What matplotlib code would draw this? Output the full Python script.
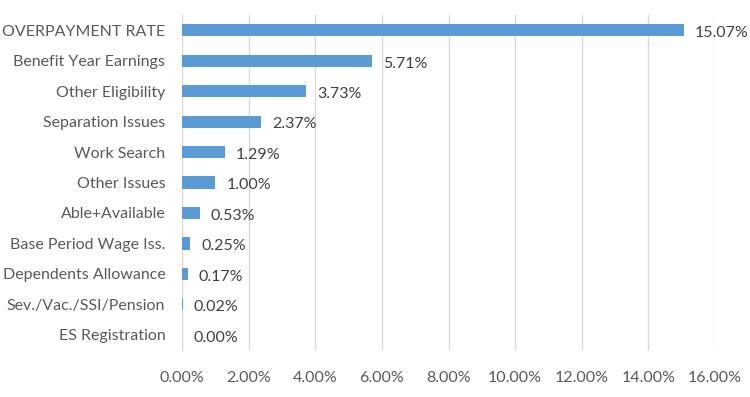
import matplotlib
matplotlib.use("Agg")
import matplotlib.pyplot as plt
from matplotlib.ticker import FuncFormatter

categories = ["OVERPAYMENT RATE", "Benefit Year Earnings", "Other Eligibility",
              "Separation Issues", "Work Search", "Other Issues", "Able+Available",
              "Base Period Wage Iss.", "Dependents Allowance", "Sev./Vac./SSI/Pension",
              "ES Registration"]
values = [15.07, 5.71, 3.73, 2.37, 1.29, 1.00, 0.53, 0.25, 0.17, 0.02, 0.00]
xticks = [0, 2, 4, 6, 8, 10, 12, 14, 16]

plt.rcParams['font.family'] = ['Lato', 'DejaVu Sans']

fig = plt.figure(figsize=(7.5, 3.97), dpi=100)
ax = fig.add_axes([0.2427, 0.1184, 0.7106, 0.8436])

n = len(categories)
ypos = list(range(n))
ax.barh(ypos, values, height=0.4, color="#5B9BD5", zorder=3)
ax.set_ylim(n - 0.5, -0.5)
ax.set_xlim(0, 16)
ax.set_xticks(xticks)
ax.xaxis.set_major_formatter(FuncFormatter(lambda v, p: f"{v:.2f}%"))
ax.set_yticks(ypos)
ax.set_yticklabels(categories)
ax.grid(axis="x", color="#d9d9d9", linewidth=1, zorder=0)
for s in ["top", "right", "bottom"]:
    ax.spines[s].set_visible(False)
ax.spines["left"].set_color("#d9d9d9")
ax.tick_params(axis="both", length=0, labelsize=11.5, colors="#595959")
ax.tick_params(axis="x", pad=15)
ax.tick_params(axis="y", pad=12)

for y, v in zip(ypos, values):
    ax.annotate(f"{v:.2f}%", (v, y), xytext=(8, -2), textcoords="offset points",
                va="center", ha="left", fontsize=11.5, color="#404040")

fig.savefig("out.png", dpi=100)
